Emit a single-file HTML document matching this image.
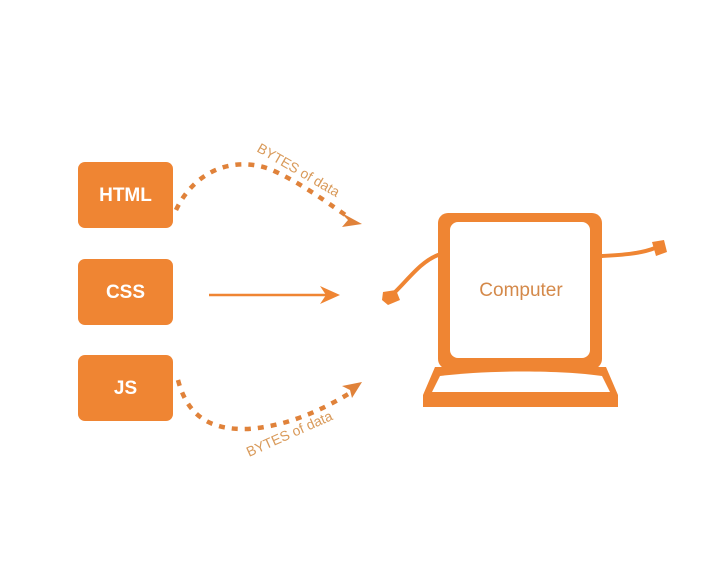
<!DOCTYPE html>
<html><head><style>
body{margin:0;width:717px;height:575px;background:#fff;overflow:hidden;font-family:"Liberation Sans",sans-serif}
.b{position:absolute;left:78px;width:95px;height:66px;background:#ef8533;border-radius:7px;color:#fff;font-size:19px;font-weight:bold;display:flex;align-items:center;justify-content:center;padding-top:2px;box-sizing:border-box}
</style></head><body>
<div class="b" style="top:162px">HTML</div>
<div class="b" style="top:259px">CSS</div>
<div class="b" style="top:355px">JS</div>
<svg width="717" height="575" style="position:absolute;left:0;top:0">
<g fill="none" stroke="#e0823a" stroke-width="4.5" stroke-dasharray="6,7">
<path d="M176 210 C195 170,235 155,272 170 C305 185,330 205,350 218"/>
<path d="M178 380 C188 418,212 430,248 429 C288 426,322 410,350 393"/>
</g>
<path d="M340 212 L362 224 L342 227 L348 220Z" fill="#e0823a"/>
<path d="M342 386 L362 382 L352 398 L350 390Z" fill="#e0823a"/>
<g font-family="Liberation Sans" font-size="14" fill="#d99a5a">
<text transform="translate(256,151) rotate(30)">BYTES of data</text>
<text transform="translate(249,457) rotate(-24)">BYTES of data</text>
</g>
<line x1="209" y1="295" x2="330" y2="295" stroke="#ef8533" stroke-width="2.5"/>
<path d="M320 286 L340 295 L320 304 L326 295Z" fill="#ef8533"/>
<g fill="#ef8533">
<rect x="438" y="213" width="164" height="156" rx="10"/>
<path d="M435 367 L606 367 L618 395 L618 407 L423 407 L423 395Z"/>
</g>
<rect x="450" y="222" width="140" height="136" rx="8" fill="#fff"/>
<path d="M440 376 C490 370,560 370,602 376 L610 392 L432 392Z" fill="#fff"/>
<g fill="none" stroke="#ef8533" stroke-width="4" stroke-linecap="round">
<path d="M438 255 C420 262,408 280,392 295"/>
<path d="M602 256 C620 255,640 254,655 248"/>
</g>
<path d="M383 292 L396 290 L400 300 L388 305 L382 300Z" fill="#ef8533"/>
<path d="M652 242 L664 240 L667 252 L656 256Z" fill="#ef8533"/>
<text x="521" y="296" text-anchor="middle" font-family="Liberation Sans" font-size="19" fill="#d4894a">Computer</text>
</svg>
</body></html>
